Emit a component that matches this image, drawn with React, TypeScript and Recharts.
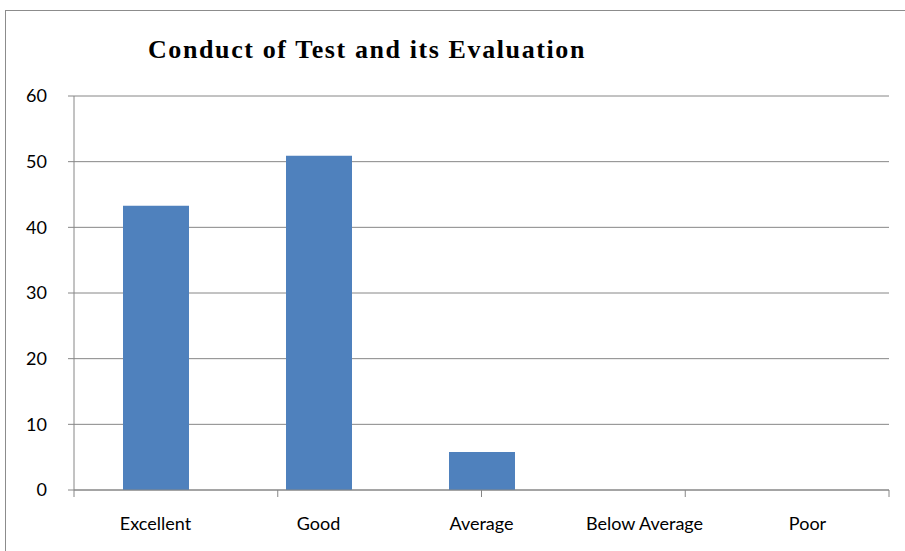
import React from 'react';
import { BarChart, Bar, XAxis, YAxis, CartesianGrid } from 'recharts';

const categories = ['Excellent', 'Good', 'Average', 'Below Average', 'Poor'];
const percentages = [43.3, 50.9, 5.8, 0, 0];
const yTicks = [0, 10, 20, 30, 40, 50, 60];
const boundaryTicks = [0, 1, 2, 3, 4, 5];

const data = categories.map((name, i) => ({ name, value: percentages[i] }));

const gray = '#868686';
const labelFont = 'Lato, "Open Sans", sans-serif';

export default function App() {
  return (
    <div style={{ position: 'absolute', left: 0, top: 0, width: 905, height: 551, background: '#fff', overflow: 'hidden' }}>
      {/* chart frame */}
      <div style={{ position: 'absolute', left: 5, top: 10, width: 910, height: 560, border: '1.5px solid #8c8c8c', boxSizing: 'border-box' }} />
      <div
        style={{
          position: 'absolute',
          left: 0,
          width: 734,
          top: 32,
          textAlign: 'center',
          fontFamily: '"Liberation Serif", "Times New Roman", serif',
          fontWeight: 'bold',
          fontSize: 26,
          letterSpacing: 1.6,
          lineHeight: '36px',
          color: '#000'
        }}
      >
        Conduct of Test and its Evaluation
      </div>
      <div style={{ position: 'absolute', left: 0, top: 0 }}>
        <BarChart width={905} height={551} data={data} margin={{ top: 96, right: 16, bottom: 20, left: 4 }}>
          <CartesianGrid vertical={false} stroke={gray} strokeWidth={1} />
          {/* category boundary tick marks, right on the plot edge */}
          <XAxis
            xAxisId="a"
            type="number"
            domain={[0, 5]}
            ticks={boundaryTicks}
            height={1}
            axisLine={{ stroke: gray }}
            tickLine={{ stroke: gray }}
            tickSize={7}
            tick={{ fontSize: 1 }}
            tickFormatter={() => ''}
            interval={0}
          />
          <XAxis
            dataKey="name"
            xAxisId="b"
            height={40}
            axisLine={false}
            tickLine={false}
            tick={{ fill: '#000', fontSize: 18, fontFamily: labelFont }}
            tickMargin={20}
            interval={0}
          />
          <YAxis
            domain={[0, 60]}
            ticks={yTicks}
            width={70}
            axisLine={{ stroke: gray }}
            tickLine={{ stroke: gray }}
            tickSize={6}
            tick={{ fill: '#000', fontSize: 18, fontFamily: labelFont }}
            tickMargin={21}
          />
          <Bar dataKey="value" xAxisId="b" fill="#4F81BD" barSize={66} isAnimationActive={false} />
        </BarChart>
      </div>
    </div>
  );
}
